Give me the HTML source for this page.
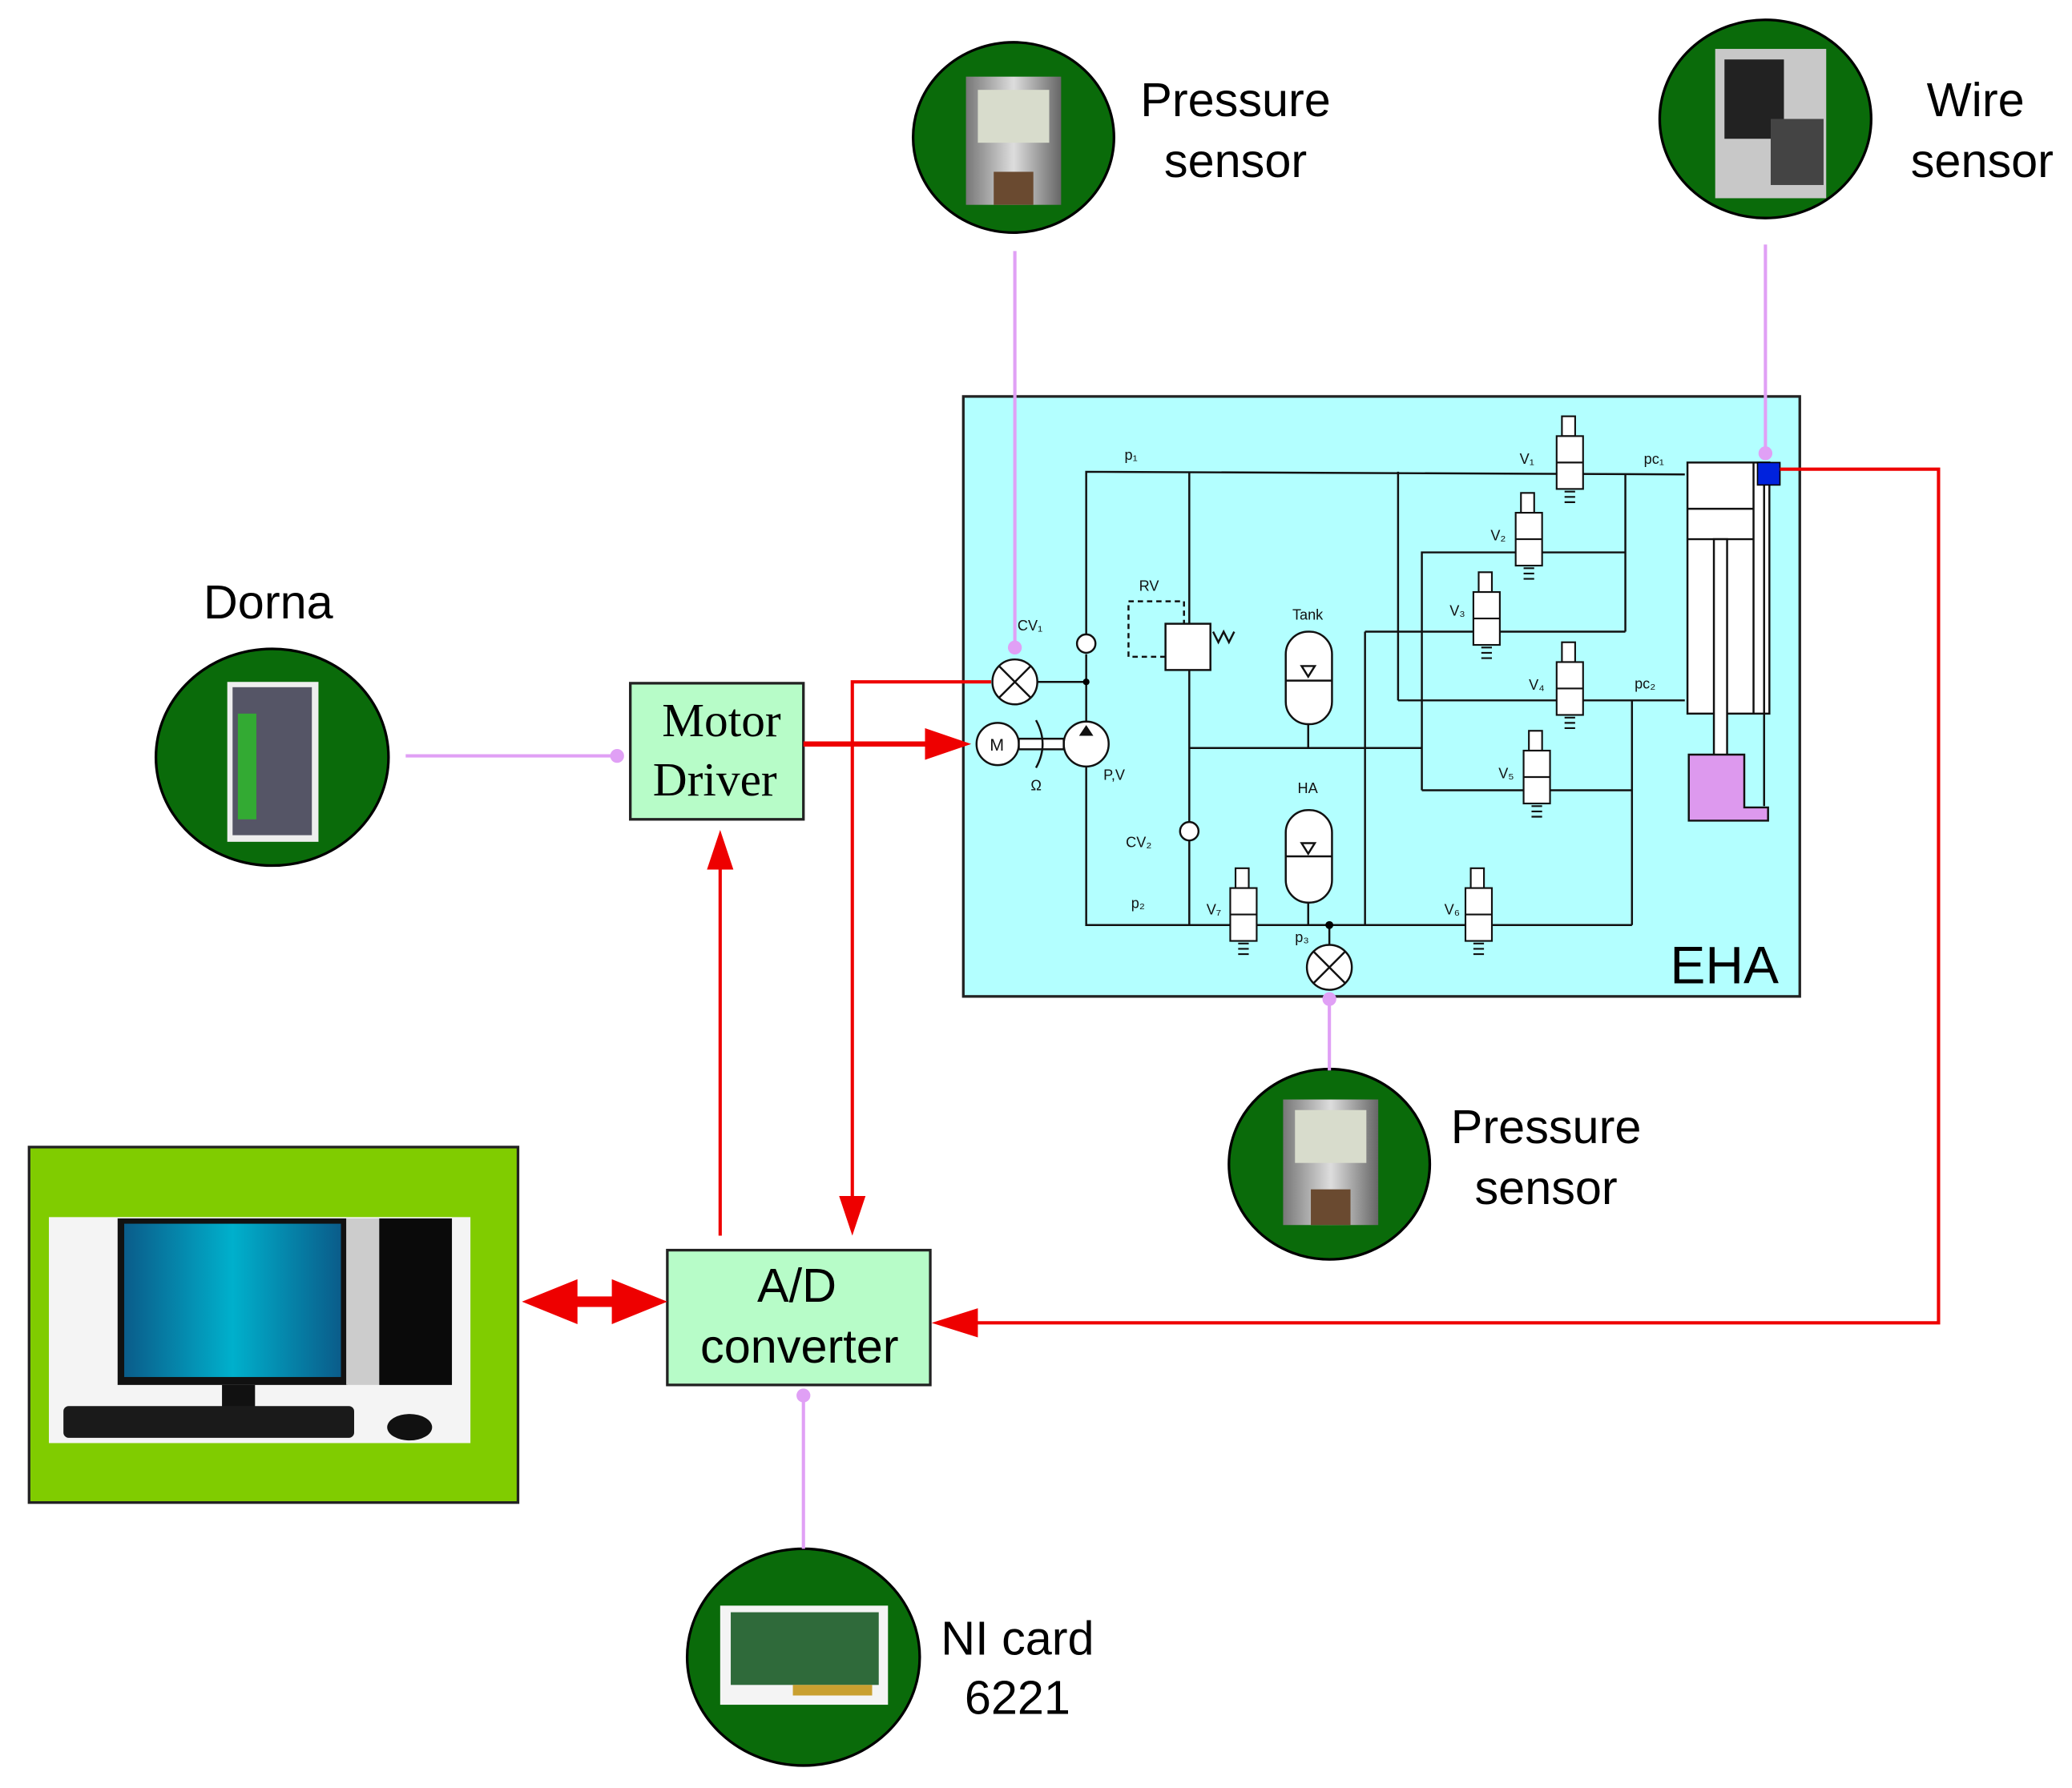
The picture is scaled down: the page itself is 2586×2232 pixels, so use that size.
<!DOCTYPE html>
<html><head><meta charset="utf-8"><style>html,body{margin:0;padding:0;background:#fff}svg{display:block}</style></head>
<body>
<svg width="2586" height="2232" viewBox="0 0 1568 1353" preserveAspectRatio="none" xmlns="http://www.w3.org/2000/svg" font-family="Liberation Sans, sans-serif">
<defs>
<linearGradient id="scr" x1="0" x2="1"><stop offset="0" stop-color="#0a5c8a"/><stop offset=".5" stop-color="#00b0cc"/><stop offset="1" stop-color="#0a5c8a"/></linearGradient>
<linearGradient id="met" x1="0" x2="1"><stop offset="0" stop-color="#777"/><stop offset=".5" stop-color="#ddd"/><stop offset="1" stop-color="#666"/></linearGradient>
</defs>
<g stroke="#000" stroke-width="2" fill="#0a6b0a">
<ellipse cx="767" cy="104" rx="76" ry="72"/>
<ellipse cx="1336" cy="90" rx="80" ry="75"/>
<ellipse cx="206" cy="573" rx="88" ry="82"/>
<ellipse cx="1006" cy="881" rx="76" ry="72"/>
<ellipse cx="608" cy="1254" rx="88" ry="82"/>
</g>
<rect x="731" y="58" width="72" height="97" fill="url(#met)"/><rect x="740" y="68" width="54" height="40" fill="#d8dccc"/><rect x="752" y="130" width="30" height="25" fill="#6a4a30"/>
<rect x="971" y="832" width="72" height="95" fill="url(#met)"/><rect x="980" y="840" width="54" height="40" fill="#d8dccc"/><rect x="992" y="900" width="30" height="27" fill="#6a4a30"/>
<rect x="1298" y="37" width="84" height="113" fill="#c8c8c8"/><rect x="1305" y="45" width="45" height="60" fill="#222"/><rect x="1340" y="90" width="40" height="50" fill="#444"/>
<rect x="172" y="516" width="69" height="121" fill="#eee"/><rect x="176" y="520" width="60" height="112" fill="#556"/><rect x="180" y="540" width="14" height="80" fill="#3a3"/>
<rect x="545" y="1215" width="127" height="75" fill="#f4f4f4"/><rect x="553" y="1220" width="112" height="55" fill="#2f6a3a"/><rect x="600" y="1275" width="60" height="8" fill="#c9a030"/>
<g font-size="36" fill="#000" text-anchor="middle">
<text x="935" y="88">Pressure</text><text x="935" y="134">sensor</text>
<text x="1495" y="88">Wire</text><text x="1500" y="134">sensor</text>
<text x="203" y="468">Dorna</text>
<text x="1170" y="865">Pressure</text><text x="1170" y="911">sensor</text>
<text x="770" y="1252">NI card</text><text x="770" y="1297">6221</text>
</g>
<rect x="729" y="300" width="633" height="454" fill="#b3ffff" stroke="#222" stroke-width="2"/>
<text x="1305" y="744" font-size="40" text-anchor="middle">EHA</text>
<g stroke="#111" stroke-width="1.5" fill="none">
<polyline points="822,487 822,357 1275,359"/>
<line x1="785" y1="516" x2="822" y2="516"/>
<line x1="822" y1="495" x2="822" y2="547"/>
<polyline points="822,580 822,700 1235,700"/>
<line x1="900" y1="357" x2="900" y2="700"/>
<line x1="1058" y1="357" x2="1058" y2="530"/>
<line x1="1058" y1="530" x2="1275" y2="530"/>
<polyline points="1076,598 1076,418 1230,418"/>
<line x1="1230" y1="359" x2="1230" y2="478"/>
<line x1="1033" y1="478" x2="1230" y2="478"/>
<line x1="1033" y1="478" x2="1033" y2="700"/>
<line x1="900" y1="566" x2="1076" y2="566"/>
<polyline points="1076,598 1235,598 1235,700"/>
<line x1="1235" y1="530" x2="1235" y2="598"/>
<line x1="990" y1="548" x2="990" y2="566"/><line x1="990" y1="683" x2="990" y2="700"/>
<line x1="1006" y1="700" x2="1006" y2="715"/>
<rect x="854" y="455" width="42" height="42" stroke-dasharray="4,3"/>
<rect x="882" y="472" width="34" height="35" fill="#fff"/>
<path d="M918 478 l4 8 l4 -8 l4 8 l4 -8"/>
<rect x="973" y="478" width="35" height="70" rx="17" fill="#fff"/><line x1="973" y1="515" x2="1008" y2="515"/><path d="M985 504 l5 8 l5 -8z"/>
<rect x="973" y="613" width="35" height="70" rx="17" fill="#fff"/><line x1="973" y1="648" x2="1008" y2="648"/><path d="M985 638 l5 8 l5 -8z"/>
<circle cx="768" cy="516" r="17" fill="#fff"/><path d="M756 504 L780 528 M780 504 L756 528"/>
<circle cx="1006" cy="732" r="17" fill="#fff"/><path d="M994 720 L1018 744 M1018 720 L994 744"/>
<circle cx="822" cy="563" r="17" fill="#fff"/><path d="M818 556 l4 -6 l4 6z" fill="#111"/>
<circle cx="755" cy="563" r="16" fill="#fff"/>
<rect x="771" y="559" width="34" height="8" fill="#fff"/>
<path d="M784 545 q10 18 0 36"/>
<circle cx="822" cy="487" r="7" fill="#fff"/><circle cx="900" cy="629" r="7" fill="#fff"/>
<rect x="1277" y="350" width="62" height="190" fill="#fff"/>
<line x1="1277" y1="385" x2="1327" y2="385"/><line x1="1277" y1="408" x2="1327" y2="408"/>
<line x1="1327" y1="350" x2="1327" y2="540"/>
<rect x="1297" y="408" width="10" height="165" fill="#fff"/>
<path d="M1278 571 h42 v40 h18 v10 h-60z" fill="#dd99ee"/>
<line x1="1335" y1="367" x2="1335" y2="610"/>
</g>
<rect x="1330" y="350" width="17" height="17" fill="#0022dd" stroke="#000"/>
<circle cx="822" cy="516" r="2.5"/><circle cx="1006" cy="700" r="3"/>
<g stroke="#111" stroke-width="1.3" fill="#fff">
<g transform="translate(1188,350)"><rect x="-6" y="-35" width="10" height="15"/><rect x="-10" y="-20" width="20" height="40"/><line x1="-10" y1="0" x2="10" y2="0"/><path d="M-4 22 h8 M-4 26 h8 M-4 30 h8" fill="none"/></g>
<g transform="translate(1157,408)"><rect x="-6" y="-35" width="10" height="15"/><rect x="-10" y="-20" width="20" height="40"/><line x1="-10" y1="0" x2="10" y2="0"/><path d="M-4 22 h8 M-4 26 h8 M-4 30 h8" fill="none"/></g>
<g transform="translate(1125,468)"><rect x="-6" y="-35" width="10" height="15"/><rect x="-10" y="-20" width="20" height="40"/><line x1="-10" y1="0" x2="10" y2="0"/><path d="M-4 22 h8 M-4 26 h8 M-4 30 h8" fill="none"/></g>
<g transform="translate(1188,521)"><rect x="-6" y="-35" width="10" height="15"/><rect x="-10" y="-20" width="20" height="40"/><line x1="-10" y1="0" x2="10" y2="0"/><path d="M-4 22 h8 M-4 26 h8 M-4 30 h8" fill="none"/></g>
<g transform="translate(1163,588)"><rect x="-6" y="-35" width="10" height="15"/><rect x="-10" y="-20" width="20" height="40"/><line x1="-10" y1="0" x2="10" y2="0"/><path d="M-4 22 h8 M-4 26 h8 M-4 30 h8" fill="none"/></g>
<g transform="translate(941,692)"><rect x="-6" y="-35" width="10" height="15"/><rect x="-10" y="-20" width="20" height="40"/><line x1="-10" y1="0" x2="10" y2="0"/><path d="M-4 22 h8 M-4 26 h8 M-4 30 h8" fill="none"/></g>
<g transform="translate(1119,692)"><rect x="-6" y="-35" width="10" height="15"/><rect x="-10" y="-20" width="20" height="40"/><line x1="-10" y1="0" x2="10" y2="0"/><path d="M-4 22 h8 M-4 26 h8 M-4 30 h8" fill="none"/></g>
</g>
<g font-size="11" fill="#111">
<text x="851" y="348">p₁</text><text x="1150" y="351">V₁</text><text x="1244" y="351">pc₁</text>
<text x="1128" y="409">V₂</text><text x="1097" y="466">V₃</text><text x="1157" y="522">V₄</text><text x="1237" y="521">pc₂</text>
<text x="1134" y="589">V₅</text><text x="862" y="447">RV</text><text x="978" y="469">Tank</text><text x="982" y="600">HA</text>
<text x="770" y="477">CV₁</text><text x="835" y="590">P,V</text><text x="780" y="598">Ω</text><text x="749" y="568" font-size="13">M</text>
<text x="852" y="641">CV₂</text><text x="856" y="687">p₂</text><text x="913" y="692">V₇</text><text x="1093" y="692">V₆</text><text x="980" y="713">p₃</text>
</g>
<g stroke="#e0a0f5" stroke-width="2.5" fill="#e0a0f5">
<line x1="768" y1="190" x2="768" y2="490"/><circle cx="768" cy="490" r="4"/>
<line x1="1336" y1="185" x2="1336" y2="343"/><circle cx="1336" cy="343" r="4"/>
<line x1="307" y1="572" x2="467" y2="572"/><circle cx="467" cy="572" r="4"/>
<line x1="1006" y1="754" x2="1006" y2="810"/><circle cx="1006" cy="756" r="4"/>
<line x1="608" y1="1056" x2="608" y2="1172"/><circle cx="608" cy="1056" r="4"/>
</g>
<rect x="477" y="517" width="131" height="103" fill="#b7fcc8" stroke="#222" stroke-width="2"/>
<text x="546" y="557" font-size="36" font-family="Liberation Serif, serif" text-anchor="middle">Motor</text>
<text x="541" y="602" font-size="36" font-family="Liberation Serif, serif" text-anchor="middle">Driver</text>
<rect x="505" y="946" width="199" height="102" fill="#b7fcc8" stroke="#222" stroke-width="2"/>
<text x="603" y="985" font-size="36" text-anchor="middle">A/D</text>
<text x="605" y="1031" font-size="36" text-anchor="middle">converter</text>
<rect x="22" y="868" width="370" height="269" fill="#80cc00" stroke="#222" stroke-width="2"/>
<rect x="37" y="921" width="319" height="171" fill="#f4f4f4"/>
<rect x="89" y="922" width="174" height="126" fill="#111"/><rect x="94" y="926" width="164" height="116" fill="url(#scr)"/>
<rect x="168" y="1048" width="25" height="22" fill="#111"/><rect x="135" y="1070" width="90" height="5" fill="#888"/>
<rect x="262" y="922" width="80" height="126" fill="#ccc"/><rect x="287" y="922" width="55" height="126" fill="#0a0a0a"/>
<rect x="48" y="1064" width="220" height="24" rx="4" fill="#1a1a1a"/><ellipse cx="310" cy="1080" rx="17" ry="10" fill="#111"/>
<g stroke="#ee0000" stroke-width="2.5" fill="none">
<line x1="608" y1="563" x2="705" y2="563" stroke-width="4"/>
<polyline points="750,516 645,516 645,910"/>
<line x1="545" y1="935" x2="545" y2="655"/>
<polyline points="1347,355 1467,355 1467,1001 735,1001"/>
<line x1="425" y1="985" x2="475" y2="985" stroke-width="8"/>
</g>
<g fill="#ee0000">
<path d="M700 551 L735 563 L700 575z"/>
<path d="M635 905 L645 935 L655 905z"/>
<path d="M535 658 L545 628 L555 658z"/>
<path d="M740 990 L705 1001 L740 1012z"/>
<path d="M395 985 L437 968 L437 1002z"/>
<path d="M505 985 L463 968 L463 1002z"/>
</g>
</svg>
</body></html>
